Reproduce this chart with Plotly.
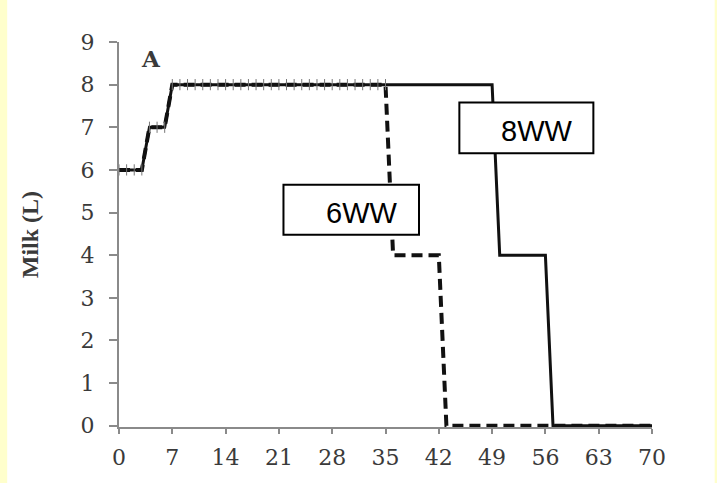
import plotly.graph_objects as go

days = list(range(0, 71))
milk_8ww = [6, 6, 6, 6, 7, 7, 7, 8, 8, 8,
            8, 8, 8, 8, 8, 8, 8, 8, 8, 8,
            8, 8, 8, 8, 8, 8, 8, 8, 8, 8,
            8, 8, 8, 8, 8, 8, 8, 8, 8, 8,
            8, 8, 8, 8, 8, 8, 8, 8, 8, 8,
            4, 4, 4, 4, 4, 4, 4, 0, 0, 0,
            0, 0, 0, 0, 0, 0, 0, 0, 0, 0,
            0]
milk_6ww = [6, 6, 6, 6, 7, 7, 7, 8, 8, 8,
            8, 8, 8, 8, 8, 8, 8, 8, 8, 8,
            8, 8, 8, 8, 8, 8, 8, 8, 8, 8,
            8, 8, 8, 8, 8, 8, 4, 4, 4, 4,
            4, 4, 4, 0, 0, 0, 0, 0, 0, 0,
            0, 0, 0, 0, 0, 0, 0, 0, 0, 0,
            0, 0, 0, 0, 0, 0, 0, 0, 0, 0,
            0]
overlap_days = days[:36]
overlap_vals = milk_6ww[:36]
x_ticks = [0, 7, 14, 21, 28, 35, 42, 49, 56, 63, 70]
y_ticks = [0, 1, 2, 3, 4, 5, 6, 7, 8, 9]
labels = ["8WW", "6WW"]

fig = go.Figure()
fig.add_trace(go.Scatter(x=days, y=milk_6ww, mode="lines", name=labels[1],
                         line=dict(color="#111111", width=4, dash="11px,6px")))
fig.add_trace(go.Scatter(x=days, y=milk_8ww, mode="lines", name=labels[0],
                         line=dict(color="#111111", width=3)))
fig.add_trace(go.Scatter(x=overlap_days, y=overlap_vals, mode="markers",
                         marker=dict(symbol="line-ns-open", size=8, color="#777777",
                                     line=dict(color="#777777", width=1)),
                         showlegend=False))

axis_font = dict(family="DejaVu Serif, serif", size=22, color="#3a3a3a")

fig.update_layout(
    width=717, height=483,
    margin=dict(l=119, r=65, t=42, b=56),
    paper_bgcolor="white", plot_bgcolor="white",
    showlegend=False,
    xaxis=dict(range=[0, 70], tickvals=x_ticks, showgrid=False, zeroline=False,
               showline=True, linecolor="#8a8a8a", linewidth=2,
               ticks="outside", ticklen=5, tickwidth=1.5, tickcolor="#8a8a8a",
               tickfont=axis_font, ticklabelstandoff=5),
    yaxis=dict(range=[-0.03, 9], tickvals=y_ticks, showgrid=False, zeroline=False,
               showline=True, linecolor="#8a8a8a", linewidth=2,
               ticks="outside", ticklen=8, tickwidth=1.5, tickcolor="#8a8a8a",
               tickfont=axis_font, ticklabelstandoff=10),
    shapes=[
        dict(type="rect", xref="paper", yref="paper", x0=-0.2238, x1=-0.2098, y0=-0.3, y1=1.3,
             fillcolor="#FFFFCC", line=dict(width=0), layer="below"),
        dict(type="rect", xref="paper", yref="paper", x0=1.1176, x1=1.125, y0=-0.3, y1=1.3,
             fillcolor="#FFFFCC", line=dict(width=0), layer="below"),
        dict(type="rect", xref="x", yref="y", x0=44.7, x1=62.3, y0=6.39, y1=7.58,
             fillcolor="white", line=dict(color="black", width=2), layer="above"),
        dict(type="rect", xref="x", yref="y", x0=21.6, x1=39.4, y0=4.48, y1=5.65,
             fillcolor="white", line=dict(color="black", width=2), layer="above"),
    ],
    annotations=[
        dict(x=54.9, y=6.92, xref="x", yref="y", text=labels[0], showarrow=False,
             font=dict(family="Liberation Sans, Arial, sans-serif", size=29, color="black")),
        dict(x=31.9, y=5.0, xref="x", yref="y", text=labels[1], showarrow=False,
             font=dict(family="Liberation Sans, Arial, sans-serif", size=29, color="black")),
        dict(x=0.0595, y=0.957, xref="paper", yref="paper", text="<b>A</b>", showarrow=False,
             xanchor="center", yanchor="middle",
             font=dict(family="DejaVu Serif, serif", size=23, color="#3a3a3a")),
        dict(x=-0.1675, y=0.5, xref="paper", yref="paper", text="<b>Milk (L)</b>", showarrow=False,
             textangle=-90, xanchor="center", yanchor="middle",
             font=dict(family="Liberation Serif, Times New Roman, serif", size=24, color="#3a3a3a")),
    ],
)

fig.write_html("out.html")
